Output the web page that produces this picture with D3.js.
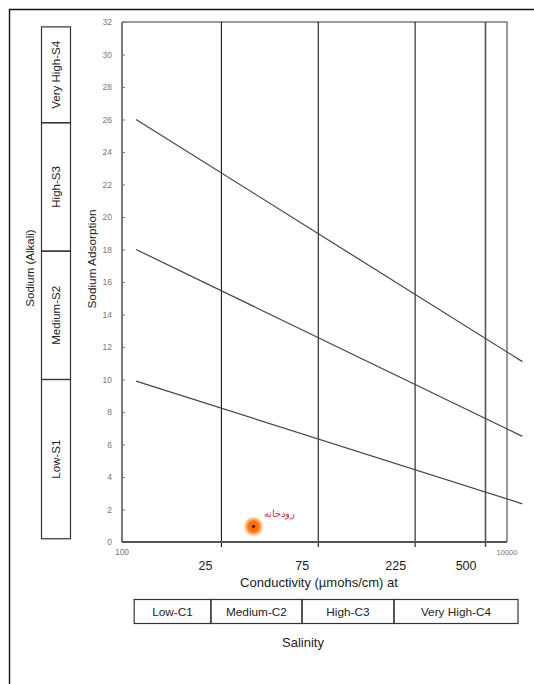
<!DOCTYPE html>
<html>
<head>
<meta charset="utf-8">
<script src="https://cdn.jsdelivr.net/npm/d3@7"></script>
<style>
  body { margin: 0; background: #fff; }
  text { font-family: Arial, "Liberation Sans", sans-serif; }
</style>
</head>
<body>
<div id="chart"></div>
<script>
// values
var sarTicks = [0, 2, 4, 6, 8, 10, 12, 14, 16, 18, 20, 22, 24, 26, 28, 30, 32];
var ecBoundaries = [250, 750, 2250, 5000];
var ecBoundaryLabels = ["25", "75", "225", "500"];
var ecEnds = [81, 6380];
var ecEndLabels = ["100", "10000"];

// hazard lines: [EC, SAR] at each end
var hazardLines = [
  [[95, 9.9], [7600, 2.35]],
  [[95, 18.0], [7600, 6.5]],
  [[95, 26.0], [7600, 11.1]]
];

var samplePoints = [{ name: "رودخانه", ec: 360, sar: 0.95 }];

var sodiumClasses = ["Low-S1", "Medium-S2", "High-S3", "Very High-S4"];
var sodiumEdges = [0.2, 10, 17.9, 25.8, 31.7];
var salinityClasses = ["Low-C1", "Medium-C2", "High-C3", "Very High-C4"];
var salinityEdges = [93, 222, 624, 1770, 7230];

showDiagram("chart", 534, 684);

function showDiagram(container_id, width, height) {
  var svg = d3.select("#" + container_id)
              .append("svg")
              .attr("width", width)
              .attr("height", height);

  var x = d3.scaleLog().domain(ecEnds).range([122, 507]);
  var y = d3.scaleLinear().domain([0, 32]).range([542, 22]);

  // outer frame (top and left edges only visible)
  svg.append("path")
     .attr("d", "M9.5," + height + "V9.5H" + width)
     .attr("fill", "none")
     .attr("stroke", "#111")
     .attr("stroke-width", 1.4);

  var defs = svg.append("defs");
  var grad = defs.append("radialGradient").attr("id", "glow");
  grad.append("stop").attr("offset", "0%").attr("stop-color", "#ff6000");
  grad.append("stop").attr("offset", "50%").attr("stop-color", "#ff7410");
  grad.append("stop").attr("offset", "75%").attr("stop-color", "#ff9a40").attr("stop-opacity", 0.7);
  grad.append("stop").attr("offset", "100%").attr("stop-color", "#ffc090").attr("stop-opacity", 0);

  // plot border: top and right gray
  svg.append("path")
     .attr("d", "M" + x(ecEnds[0]) + "," + y(32) + "H" + x(ecEnds[1]) + "V" + y(0))
     .attr("fill", "none")
     .attr("stroke", "#7a7a7a")
     .attr("stroke-width", 1.5);

  // class boundaries
  svg.append("g").selectAll("line")
     .data(ecBoundaries)
     .enter()
     .append("line")
     .attr("x1", function(d) { return x(d); })
     .attr("x2", function(d) { return x(d); })
     .attr("y1", y(32))
     .attr("y2", y(0) + 5)
     .attr("stroke", function(d, i) { return i == 3 ? "#555" : "#000"; })
     .attr("stroke-width", function(d, i) { return i == 3 ? 1.6 : 1; });

  svg.append("g").selectAll("text")
     .data(ecBoundaries)
     .enter()
     .append("text")
     .attr("x", function(d) { return x(d) - 9; })
     .attr("y", 570)
     .attr("text-anchor", "end")
     .attr("font-size", "12.5px")
     .attr("fill", "#222")
     .text(function(d, i) { return ecBoundaryLabels[i]; });

  svg.append("g").selectAll("text")
     .data(ecEnds)
     .enter()
     .append("text")
     .attr("x", function(d) { return x(d); })
     .attr("y", 555)
     .attr("text-anchor", "middle")
     .attr("font-size", function(d, i) { return i == 0 ? "8.5px" : "7.5px"; })
     .attr("fill", "#777")
     .text(function(d, i) { return ecEndLabels[i]; });

  // y axis
  var yAxis = svg.append("g")
                 .attr("transform", "translate(" + x(ecEnds[0]) + ",0)")
                 .call(d3.axisLeft(y).tickValues(sarTicks).tickSize(-3).tickPadding(10));
  yAxis.select(".domain").remove();
  yAxis.selectAll(".tick line").attr("stroke", "#777");
  yAxis.selectAll(".tick text")
       .attr("fill", "#777")
       .attr("font-size", "8.5px")
       .attr("font-family", "Arial, Liberation Sans, sans-serif");
  svg.append("line")
     .attr("x1", x(ecEnds[0])).attr("x2", x(ecEnds[0]))
     .attr("y1", y(32)).attr("y2", y(0))
     .attr("stroke", "#7a7a7a")
     .attr("stroke-width", 2);
  svg.append("line")
     .attr("x1", x(ecEnds[0])).attr("x2", x(ecEnds[1]))
     .attr("y1", y(0)).attr("y2", y(0))
     .attr("stroke", "#555")
     .attr("stroke-width", 2);

  // hazard lines
  var line = d3.line()
               .x(function(d) { return x(d[0]); })
               .y(function(d) { return y(d[1]); });
  svg.append("g").selectAll("path")
     .data(hazardLines)
     .enter()
     .append("path")
     .attr("d", line)
     .attr("fill", "none")
     .attr("stroke", "#444")
     .attr("stroke-width", 1.2);

  // sample
  var pts = svg.append("g").selectAll("g")
               .data(samplePoints)
               .enter()
               .append("g")
               .attr("transform", function(d) { return "translate(" + x(d.ec) + "," + y(d.sar) + ")"; });
  pts.append("circle").attr("r", 10.5).attr("fill", "url(#glow)");
  pts.append("circle").attr("r", 1.3).attr("fill", "#000");
  pts.append("text")
     .attr("x", 26)
     .attr("y", -10)
     .attr("text-anchor", "middle")
     .attr("font-size", "9.5px")
     .attr("fill", "#c03030")
     .text(function(d) { return d.name; });

  // axis titles
  svg.append("text")
     .attr("transform", "translate(96," + 259 + ") rotate(-90)")
     .attr("text-anchor", "middle")
     .attr("font-size", "11.8px")
     .attr("fill", "#222")
     .text("Sodium Adsorption");
  svg.append("text")
     .attr("transform", "translate(34," + 268 + ") rotate(-90)")
     .attr("text-anchor", "middle")
     .attr("font-size", "11.5px")
     .attr("fill", "#222")
     .text("Sodium (Alkali)");
  svg.append("text")
     .attr("x", 319)
     .attr("y", 587)
     .attr("text-anchor", "middle")
     .attr("font-size", "13px")
     .attr("fill", "#222")
     .text("Conductivity (µmohs/cm) at");
  svg.append("text")
     .attr("x", 303)
     .attr("y", 647)
     .attr("text-anchor", "middle")
     .attr("font-size", "13px")
     .attr("fill", "#222")
     .text("Salinity");

  // sodium hazard boxes
  var sBox = svg.append("g").selectAll("g")
                .data(sodiumClasses)
                .enter()
                .append("g");
  sBox.append("rect")
      .attr("x", 41.5)
      .attr("width", 29)
      .attr("y", function(d, i) { return y(sodiumEdges[i + 1]); })
      .attr("height", function(d, i) { return y(sodiumEdges[i]) - y(sodiumEdges[i + 1]); })
      .attr("fill", "none")
      .attr("stroke", "#333")
      .attr("stroke-width", 1.2);
  sBox.append("text")
      .attr("transform", function(d, i) {
        var cy = (y(sodiumEdges[i]) + y(sodiumEdges[i + 1])) / 2;
        return "translate(60," + cy + ") rotate(-90)";
      })
      .attr("text-anchor", "middle")
      .attr("font-size", "11.5px")
      .attr("fill", "#222")
      .text(function(d) { return d; });

  // salinity hazard boxes
  var cBox = svg.append("g").selectAll("g")
                .data(salinityClasses)
                .enter()
                .append("g");
  cBox.append("rect")
      .attr("x", function(d, i) { return x(salinityEdges[i]); })
      .attr("width", function(d, i) { return x(salinityEdges[i + 1]) - x(salinityEdges[i]); })
      .attr("y", 599.5)
      .attr("height", 24)
      .attr("fill", "none")
      .attr("stroke", "#333")
      .attr("stroke-width", 1.2);
  cBox.append("text")
      .attr("x", function(d, i) { return (x(salinityEdges[i]) + x(salinityEdges[i + 1])) / 2; })
      .attr("y", 616)
      .attr("text-anchor", "middle")
      .attr("font-size", "11.8px")
      .attr("fill", "#222")
      .text(function(d) { return d; });
}
</script>
</body>
</html>
